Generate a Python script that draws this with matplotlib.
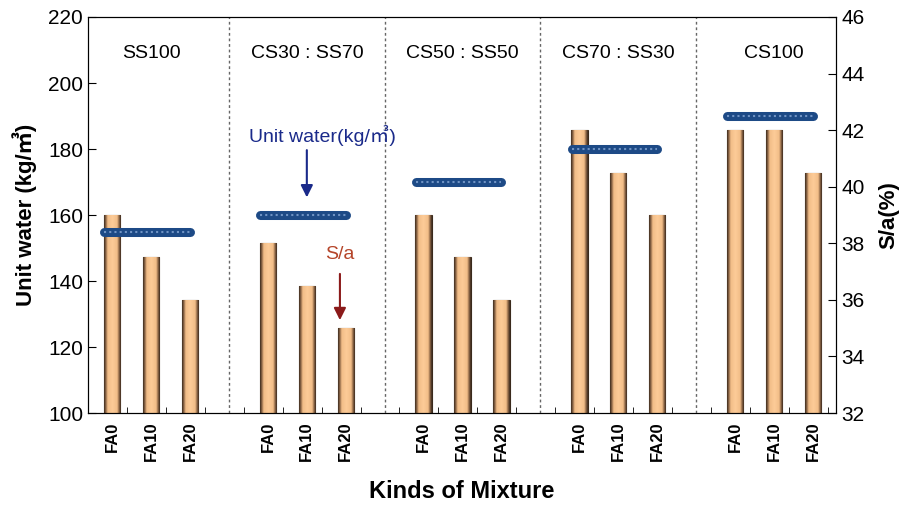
import numpy as np
import matplotlib
matplotlib.use('Agg')
import matplotlib.pyplot as plt
from matplotlib.colors import LinearSegmentedColormap

plt.rcParams['font.family'] = ['Liberation Sans', 'Noto Sans CJK KR', 'DejaVu Sans']

groups = ['SS100', 'CS30 : SS70', 'CS50 : SS50', 'CS70 : SS30', 'CS100']
fa_labels = ['FA0', 'FA10', 'FA20']
# S/a (%) bars, right axis
sa = [[39.0, 37.5, 36.0],
      [38.0, 36.5, 35.0],
      [39.0, 37.5, 36.0],
      [42.0, 40.5, 39.0],
      [42.0, 42.0, 40.5]]
# unit water (kg/m3), left axis, one per group
unit_water = [155, 160, 170, 180, 190]

fig = plt.figure(figsize=(9.17, 5.15), dpi=100)
ax = fig.add_axes([0.096, 0.198, 0.816, 0.769])
ax2 = ax.twinx()
ax.set_zorder(ax2.get_zorder() + 1)
ax.patch.set_visible(False)

xpos = []
xlab = []
for g in range(len(groups)):
    for k in range(3):
        xpos.append(g * 4 + k)
        xlab.append(fa_labels[k])
vals = [v for row in sa for v in row]

ax2.set_ylim(32, 46)
ax2.set_xlim(-0.62, 18.6)
bars = ax2.bar(xpos, np.array(vals) - 32, bottom=32, width=0.42, color='#f8c490',
               edgecolor='#3a2a1c', linewidth=0.8)

# shaded look of the bars: dark thin sides, light middle
cmap = LinearSegmentedColormap.from_list('barshade', [
    (0.0, '#3e2c1f'), (0.1, '#8a6444'), (0.22, '#f2bd88'), (0.5, '#fdcc98'),
    (0.78, '#f2bd88'), (0.9, '#8a6444'), (1.0, '#3e2c1f')])
grad = np.linspace(0, 1, 64).reshape(1, -1)
for b in bars:
    x, y = b.get_x(), b.get_y()
    w, h = b.get_width(), b.get_height()
    im = ax2.imshow(grad, cmap=cmap, aspect='auto', extent=[x, x + w, y, y + h],
                    zorder=b.get_zorder() + 0.1)
    im.set_clip_path(b)
ax2.set_xlim(-0.62, 18.6)
ax2.set_ylim(32, 46)
ax2.set_yticks(range(32, 47, 2))

for g, uw in enumerate(unit_water):
    x0 = g * 4 - 0.2
    x1 = g * 4 + 2
    ax.plot([x0, x1], [uw, uw], color='#1d4a86', lw=6.5, solid_capstyle='round')
    ax.plot([x0, x1], [uw, uw], color='#6f93c4', lw=1.5, ls=(0, (1, 1.5)))
    ax.text(g * 4 + 1, 209, groups[g], ha='center', va='center', fontsize=14)
    if g < len(groups) - 1:
        ax.axvline(g * 4 + 3, color='#666666', lw=1, ls=(0, (2, 2)))

ax.set_xlim(-0.62, 18.6)
ax.set_ylim(100, 220)
ax.set_yticks(range(100, 221, 20))
ax.set_xticks(xpos)
ax.set_xticklabels(xlab, rotation=90, fontsize=12, fontweight='bold')
ax.set_xticks(np.arange(-0.62, 18.6, 1.0), minor=True)
ax.tick_params(axis='x', which='major', length=0, pad=6)
ax.tick_params(axis='x', which='minor', direction='in', length=4)
ax.tick_params(axis='y', direction='in', length=6, labelsize=15)
ax2.tick_params(axis='y', direction='in', length=6, labelsize=15)

ax.set_ylabel('Unit water (kg/㎥)', fontsize=16, fontweight='bold', labelpad=8)
ax2.set_ylabel('S/a(%)', fontsize=16, fontweight='bold', labelpad=10)
ax.set_xlabel('Kinds of Mixture', fontsize=17, fontweight='bold', labelpad=14)

ax.text(5.4, 184, 'Unit water(kg/㎥)', color='#1a2a8a', fontsize=14,
        ha='center', va='center')
ax.annotate('', xy=(5.0, 164.5), xytext=(5.0, 180.5),
            arrowprops=dict(arrowstyle='-|>', color='#1a2a8a', lw=1.5, mutation_scale=18))
ax.text(5.85, 148, 'S/a', color='#b5452a', fontsize=14, ha='center', va='center')
ax.annotate('', xy=(5.85, 127.3), xytext=(5.85, 143),
            arrowprops=dict(arrowstyle='-|>', color='#8b1a1a', lw=1.5, mutation_scale=18))

fig.savefig('out.png', dpi=100)
